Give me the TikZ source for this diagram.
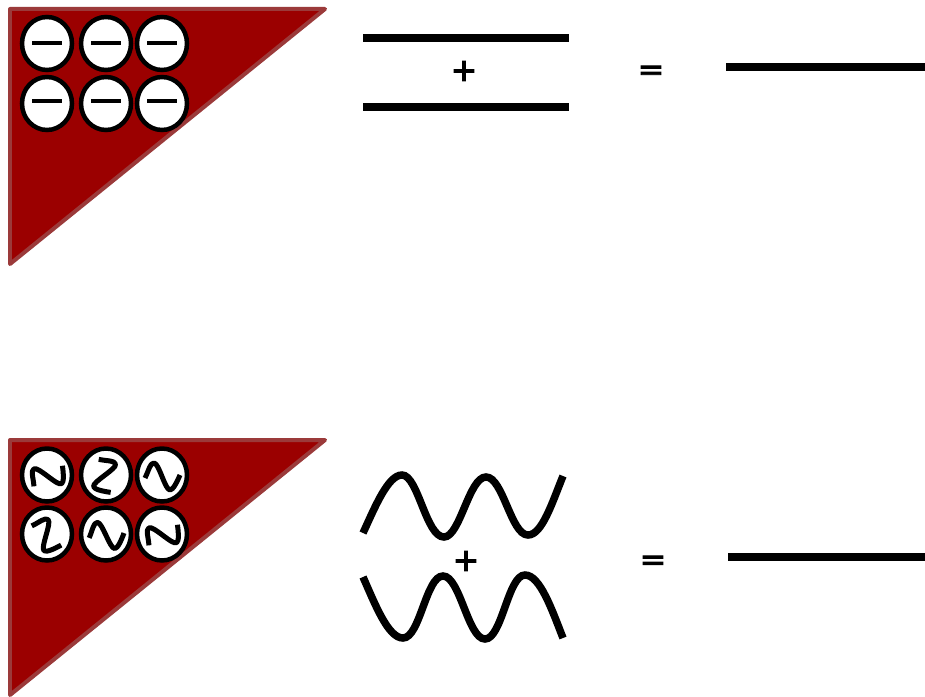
\documentclass[tikz,border=0pt]{standalone}
\usepackage{fontspec}
\newfontfamily\symfont[FakeBold=3]{DejaVu Sans}
\usetikzlibrary{shapes.geometric}
\definecolor{wedgered}{HTML}{9B0000}
\definecolor{wedgeedge}{HTML}{9B3A3A}
\begin{document}
\begin{tikzpicture}[
    x=0.02cm, y=-0.02cm,
    wedge/.style={draw=wedgeedge, fill=wedgered, line width=0.08cm, line join=round},
    chg/.style={draw, ellipse, fill=white, line width=0.09cm, minimum width=1.0cm, minimum height=1.06cm, inner sep=0pt},
    sq/.style={line width=0.1cm, line join=round},
    dash bar/.style={line width=0.09cm},
    bar/.style={line width=0.155cm},
    wave/.style={line width=0.15cm},
    sym/.style={font=\symfont\fontsize{18}{18}\selectfont, inner sep=0pt}
]
\path[use as bounding box] (0,0) rectangle (925,696);

% flat row
\draw[wedge] (10,9) -- (325,9) -- (10,264) -- cycle;
\foreach \nm/\cx/\cy/\my in {a/47/43.5/43, b/106/43.5/43, c/162/43.5/43, d/47/103.5/101, e/106/103.5/101, f/162/103.5/101} {
    \node[chg] (flat\nm) at (\cx,\cy) {};
    \draw[dash bar] (\cx-15,\my) -- (\cx+15,\my);
}
\draw[bar] (363,38) -- (569,38);
\draw[bar] (363,107) -- (569,107);
\draw[bar] (726,67) -- (925,67);
\node[sym] (plusflat) at (464,71) {+};
\node[sym] (eqflat) at (651,73) {=};

% wavy row
\draw[wedge] (10,440) -- (325,440) -- (10,695) -- cycle;
\foreach \nm/\cx/\cy/\r in {a/47/475/31, b/106/475/-75, c/162/475/0, d/47/534/-38, e/106/534/3, f/162/534/31} {
    \node[chg] (wavy\nm) at (\cx,\cy) {};
    \draw[sq, shift={(\cx,\cy)}, rotate=\r] (-17,3) .. controls (-13,-5) and (-12,-12) .. (-8,-12)
        .. controls (-3,-12) and (3,15) .. (8,15) .. controls (11,15) and (15,7) .. (18,0);
}
\draw[wave] (363,533) .. controls (375,507) and (388,475) .. (402,475)
    .. controls (418,475) and (426,537) .. (444,537)
    .. controls (460,537) and (469,477) .. (486,477)
    .. controls (503,477) and (511,535) .. (528,535)
    .. controls (542,535) and (552,503) .. (563,476);
\draw[wave] (363,577) .. controls (375,604) and (388,638) .. (403,638)
    .. controls (420,638) and (426,576) .. (443,576)
    .. controls (460,576) and (468,639) .. (485,639)
    .. controls (502,639) and (508,575) .. (525,575)
    .. controls (540,575) and (552,610) .. (563,638);
\draw[bar] (728,557) -- (925,557);
\node[sym] (pluswavy) at (466,561) {+};
\node[sym] (eqwavy) at (653,563) {=};
\end{tikzpicture}
\end{document}
